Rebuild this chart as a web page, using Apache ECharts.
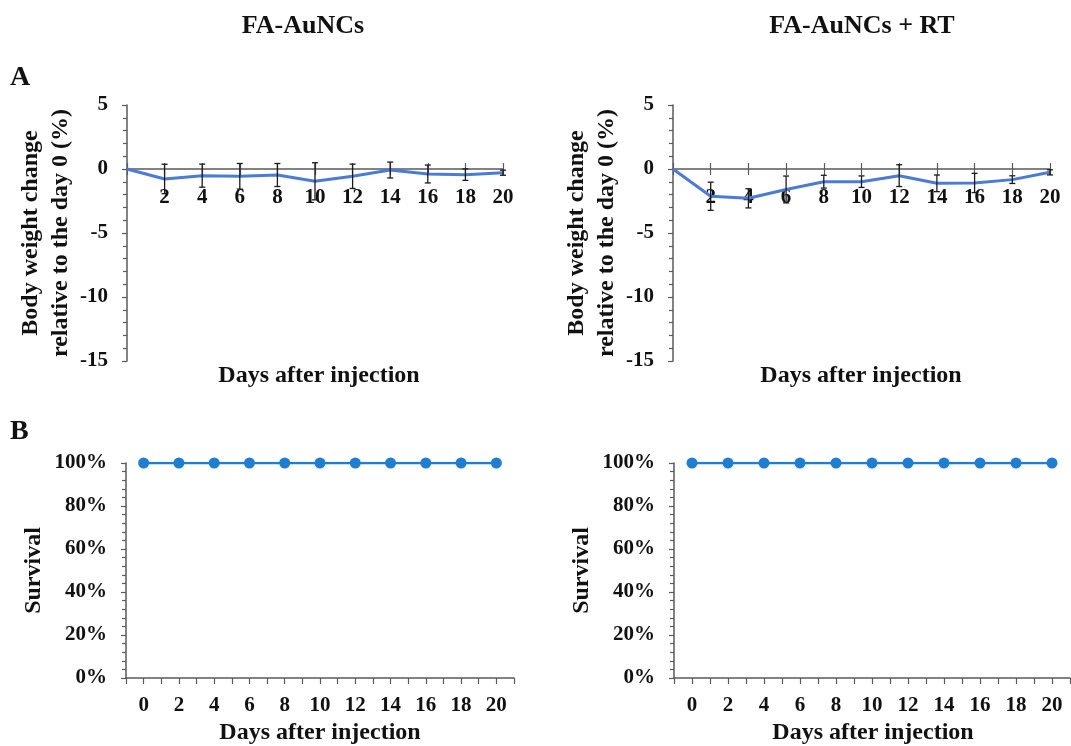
<!DOCTYPE html>
<html>
<head>
<meta charset="utf-8">
<script src="https://cdn.jsdelivr.net/npm/echarts@6/dist/echarts.min.js"></script>
<style>
  html, body { margin: 0; padding: 0; background: #fff; }
  #chart { width: 1071px; height: 746px; }
</style>
</head>
<body>
<div id="chart"></div>
<script>
// days of measurement
const days = [0, 2, 4, 6, 8, 10, 12, 14, 16, 18, 20];

// body weight change (%) vs day 0
const weightFA   = [0, -0.78, -0.52, -0.57, -0.47, -0.96, -0.57, -0.08, -0.39, -0.44, -0.29];
const errFA      = [0, 1.15, 0.9, 1.0, 0.9, 1.45, 0.95, 0.62, 0.7, 0.45, 0.2];
const weightFART = [0, -2.13, -2.29, -1.6, -0.99, -0.99, -0.52, -1.12, -1.09, -0.83, -0.26];
const errFART    = [0, 1.1, 0.75, 1.05, 0.5, 0.45, 0.85, 0.65, 0.75, 0.3, 0.2];

// survival (%)
const survivalFA   = [100, 100, 100, 100, 100, 100, 100, 100, 100, 100, 100];
const survivalFART = [100, 100, 100, 100, 100, 100, 100, 100, 100, 100, 100];

const weightTicks = [-15, -10, -5, 0, 5];
const survivalTicks = [0, 20, 40, 60, 80, 100];

const serif = "'Times New Roman', 'Liberation Serif', serif";
const axisGrey = '#5a5a5a';
const weightBlue = '#4a7bd6';
const survBlue = '#1e7fd2';

const weightGridH = 256;
const wMin = weightTicks[0], wMax = weightTicks[weightTicks.length - 1];
// x axis of panel A sits on y = 0: shift it up from the grid bottom
const zeroOffset = -weightGridH * (0 - wMin) / (wMax - wMin);

function txt(text, x, y, size, align) {
  return {
    text: text, left: x, top: y, padding: 0,
    textAlign: align || 'center',
    textStyle: { fontFamily: serif, fontWeight: 'bold', fontSize: size, color: '#111' }
  };
}

function weightY(gridIndex) {
  return {
    type: 'value', gridIndex: gridIndex,
    min: wMin, max: wMax, interval: 5,
    name: 'Body weight change\nrelative to the day 0 (%)',
    nameLocation: 'middle', nameGap: 50,
    nameTextStyle: { fontFamily: serif, fontWeight: 'bold', fontSize: 24, color: '#111', lineHeight: 30 },
    axisLine: { show: true, onZero: false, lineStyle: { color: axisGrey, width: 1.5 } },
    axisTick: { show: true, length: 5, lineStyle: { color: axisGrey, width: 1.2 } },
    minorTick: { show: true, splitNumber: 5, length: 4, lineStyle: { color: axisGrey, width: 1.2 } },
    splitLine: { show: false },
    axisLabel: { fontFamily: serif, fontWeight: 'bold', fontSize: 21, color: '#111', margin: 19 }
  };
}

function weightX(gridIndex, inside) {
  return {
    type: 'value', gridIndex: gridIndex, position: 'bottom', offset: zeroOffset,
    min: 0, max: 20, interval: 2,
    axisLine: { show: !inside, onZero: false, lineStyle: { color: axisGrey, width: 1.5 } },
    axisTick: { show: true, inside: inside, length: 6, lineStyle: { color: axisGrey, width: 1.2 } },
    splitLine: { show: false },
    axisLabel: {
      show: !inside, fontFamily: serif, fontWeight: 'bold', fontSize: 21, color: '#111', margin: 18,
      formatter: v => (v === 0 ? '' : String(v))
    }
  };
}

function survY(gridIndex) {
  return {
    type: 'value', gridIndex: gridIndex,
    min: survivalTicks[0], max: survivalTicks[survivalTicks.length - 1], interval: 20,
    name: 'Survival', nameLocation: 'middle', nameGap: 80,
    nameTextStyle: { fontFamily: serif, fontWeight: 'bold', fontSize: 24, color: '#111' },
    axisLine: { show: true, onZero: false, lineStyle: { color: axisGrey, width: 1.5 } },
    axisTick: { show: true, length: 5, lineStyle: { color: axisGrey, width: 1.2 } },
    minorTick: { show: true, splitNumber: 5, length: 4, lineStyle: { color: axisGrey, width: 1.2 } },
    splitLine: { show: false },
    axisLabel: { fontFamily: serif, fontWeight: 'bold', fontSize: 21, color: '#111', margin: 19, formatter: '{value}%' }
  };
}

function survX(gridIndex) {
  return {
    type: 'value', gridIndex: gridIndex,
    min: -1, max: 21, interval: 1,
    axisLine: { show: true, onZero: false, lineStyle: { color: axisGrey, width: 1.5 } },
    axisTick: { show: true, length: 6, lineStyle: { color: axisGrey, width: 1.2 } },
    splitLine: { show: false },
    axisLabel: {
      fontFamily: serif, fontWeight: 'bold', fontSize: 21, color: '#111', margin: 17,
      formatter: v => (v >= 0 && v <= 20 && v % 2 === 0 ? String(v) : '')
    }
  };
}

function errorBars(xi, yi, means, errs) {
  return {
    type: 'custom', xAxisIndex: xi, yAxisIndex: yi, z: 4,
    data: days.map((d, i) => [d, means[i] - errs[i], means[i] + errs[i]]).filter((r, i) => errs[i] > 0),
    renderItem: function (params, api) {
      const lo = api.coord([api.value(0), api.value(1)]);
      const hi = api.coord([api.value(0), api.value(2)]);
      const w = 3;
      const st = { stroke: '#1a1a1a', lineWidth: 1.3 };
      return {
        type: 'group',
        children: [
          { type: 'line', shape: { x1: lo[0], y1: lo[1], x2: hi[0], y2: hi[1] }, style: st },
          { type: 'line', shape: { x1: lo[0] - w, y1: lo[1], x2: lo[0] + w, y2: lo[1] }, style: st },
          { type: 'line', shape: { x1: hi[0] - w, y1: hi[1], x2: hi[0] + w, y2: hi[1] }, style: st }
        ]
      };
    }
  };
}

function weightLine(xi, yi, values) {
  return {
    type: 'line', xAxisIndex: xi, yAxisIndex: yi, z: 3,
    data: days.map((d, i) => [d, values[i]]),
    showSymbol: false, lineStyle: { color: weightBlue, width: 3 }, itemStyle: { color: weightBlue }
  };
}

function survLine(xi, yi, values) {
  return {
    type: 'line', xAxisIndex: xi, yAxisIndex: yi,
    data: days.map((d, i) => [d, values[i]]),
    symbol: 'circle', symbolSize: 11,
    lineStyle: { color: survBlue, width: 2.5 }, itemStyle: { color: survBlue }
  };
}

const option = {
  animation: false,
  backgroundColor: '#fff',
  title: [
    txt('FA-AuNCs', 303, 13, 26),
    txt('FA-AuNCs + RT', 862, 13, 26),
    txt('A', 10, 64, 28, 'left'),
    txt('B', 10, 418, 28, 'left'),
    txt('Days after injection', 319, 364, 24),
    txt('Days after injection', 861, 364, 24),
    txt('Days after injection', 320, 721, 24),
    txt('Days after injection', 873, 721, 24)
  ],
  grid: [
    { left: 127, top: 105, width: 376, height: weightGridH, outerBoundsMode: 'none' },
    { left: 673, top: 105, width: 377, height: weightGridH, outerBoundsMode: 'none' },
    { left: 126, top: 463, width: 388, height: 215, outerBoundsMode: 'none' },
    { left: 674, top: 463, width: 396, height: 215, outerBoundsMode: 'none' }
  ],
  xAxis: [
    weightX(0, false), weightX(0, true),
    weightX(1, false), weightX(1, true),
    survX(2), survX(3)
  ],
  yAxis: [weightY(0), weightY(1), survY(2), survY(3)],
  series: [
    weightLine(0, 0, weightFA),
    errorBars(0, 0, weightFA, errFA),
    weightLine(2, 1, weightFART),
    errorBars(2, 1, weightFART, errFART),
    survLine(4, 2, survivalFA),
    survLine(5, 3, survivalFART)
  ]
};

const chart = echarts.init(document.getElementById('chart'));
chart.setOption(option);
</script>
</body>
</html>
